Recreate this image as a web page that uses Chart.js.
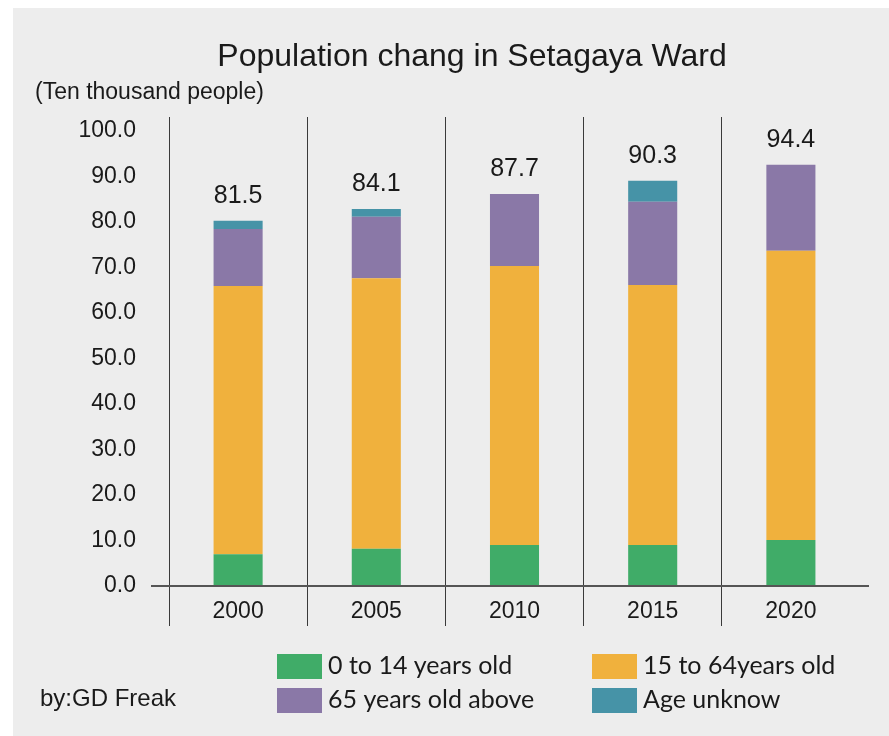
<!DOCTYPE html>
<html>
<head>
<meta charset="utf-8">
<script src="https://cdn.jsdelivr.net/npm/chart.js@4"></script>
<style>
    html, body { margin: 0; padding: 0; background: #fff; }
    #wrap { width: 889px; height: 736px; position: relative; }
</style>
</head>
<body>
<div id="wrap"><canvas id="setagayaChart"></canvas></div>
<script>
const years = ['2000', '2005', '2010', '2015', '2020'];
const age0to14 = [7.0, 8.2, 9.0, 9.0, 10.1];
const age15to64 = [58.9, 59.4, 61.3, 57.1, 63.5];
const age65plus = [12.5, 13.5, 15.8, 18.3, 18.9];
const ageUnknown = [1.8, 1.7, 0, 4.6, 0];
const totals = ['81.5', '84.1', '87.7', '90.3', '94.4'];

const seriesNames = ['0 to 14 years old', '15 to 64years old', '65 years old above', 'Age unknow'];
const seriesColors = ['#40ac68', '#f0b13d', '#8a78a7', '#4693a7'];

document.addEventListener('DOMContentLoaded', function () {

    const textFont = '"Liberation Sans", Arial, sans-serif';
    const legendFont = 'Lato, "Noto Sans", sans-serif';

    // panel background, title, totals, legend and credit
    const overlay = {
        id: 'overlay',
        beforeDraw(chart) {
            const c = chart.ctx;
            c.save();
            c.fillStyle = '#ededed';
            c.fillRect(13, 8, chart.width - 13, chart.height - 8);
            c.restore();
        },
        afterDatasetsDraw(chart) {
            const c = chart.ctx;
            const y = chart.scales.y;
            const area = chart.chartArea;
            c.save();

            // baseline runs a little past the last slot
            c.strokeStyle = '#555';
            c.lineWidth = 2;
            c.beginPath();
            c.moveTo(area.right - 1, y.getPixelForValue(0));
            c.lineTo(area.right + 9, y.getPixelForValue(0));
            c.stroke();

            c.fillStyle = '#1a1a1a';
            c.textBaseline = 'middle';

            c.font = '32px ' + textFont;
            c.textAlign = 'center';
            c.fillText('Population chang in Setagaya Ward', 472, 57);

            c.font = '23px ' + textFont;
            c.textAlign = 'left';
            c.fillText('(Ten thousand people)', 35, 93);

            // totals above each stack
            const meta = chart.getDatasetMeta(0);
            c.font = '25px ' + textFont;
            c.textAlign = 'center';
            years.forEach((yr, i) => {
                const sum = age0to14[i] + age15to64[i] + age65plus[i] + ageUnknown[i];
                c.fillText(totals[i], meta.data[i].x, y.getPixelForValue(sum) - 25);
            });

            c.font = '24px ' + textFont;
            c.textAlign = 'left';
            c.fillText('by:GD Freak', 40, 699);

            // legend in a 2x2 grid
            c.font = '25px ' + legendFont;
            chart.data.datasets.forEach((ds, i) => {
                const lx = i % 2 === 0 ? 277 : 592;
                const ly = i < 2 ? 654 : 688;
                c.fillStyle = ds.backgroundColor;
                c.fillRect(lx, ly, 45, 25);
                c.fillStyle = '#1a1a1a';
                c.fillText(ds.label, lx + 51, ly + 12);
            });
            c.restore();
        }
    };

    const ctx = document.getElementById('setagayaChart');
    new Chart(ctx, {
        type: 'bar',
        data: {
            labels: years,
            datasets: [age0to14, age15to64, age65plus, ageUnknown].map((vals, i) => ({
                label: seriesNames[i],
                data: vals,
                backgroundColor: seriesColors[i],
                borderWidth: 0,
                barPercentage: 0.355,
                categoryPercentage: 1
            }))
        },
        options: {
            responsive: true,
            maintainAspectRatio: false,
            animation: false,
            layout: { padding: { left: 0, top: 117, right: 29, bottom: 0 } },
            plugins: {
                legend: { display: false },
                tooltip: { enabled: false }
            },
            scales: {
                x: {
                    stacked: true,
                    afterFit: (s) => { s.height = 150; },
                    border: { display: false },
                    grid: {
                        offset: true,
                        tickLength: 40,
                        lineWidth: 1,
                        color: (c) => c.type === 'tick' ? '#3a3a3a' : 'rgba(0,0,0,0)'
                    },
                    ticks: {
                        color: '#1a1a1a',
                        padding: -28,
                        font: { size: 23, family: textFont }
                    }
                },
                y: {
                    stacked: true,
                    min: 0,
                    max: 103,
                    afterFit: (s) => { s.width = 169; },
                    border: { display: false },
                    grid: {
                        tickLength: 18,
                        lineWidth: 2,
                        color: (c) => c.tick && c.tick.value === 0 ? '#555' : 'rgba(0,0,0,0)'
                    },
                    ticks: {
                        stepSize: 10,
                        includeBounds: false,
                        padding: 15,
                        color: '#1a1a1a',
                        font: { size: 23, family: textFont },
                        callback: (v) => v.toFixed(1)
                    }
                }
            }
        },
        plugins: [overlay]
    });
});
</script>
</body>
</html>
